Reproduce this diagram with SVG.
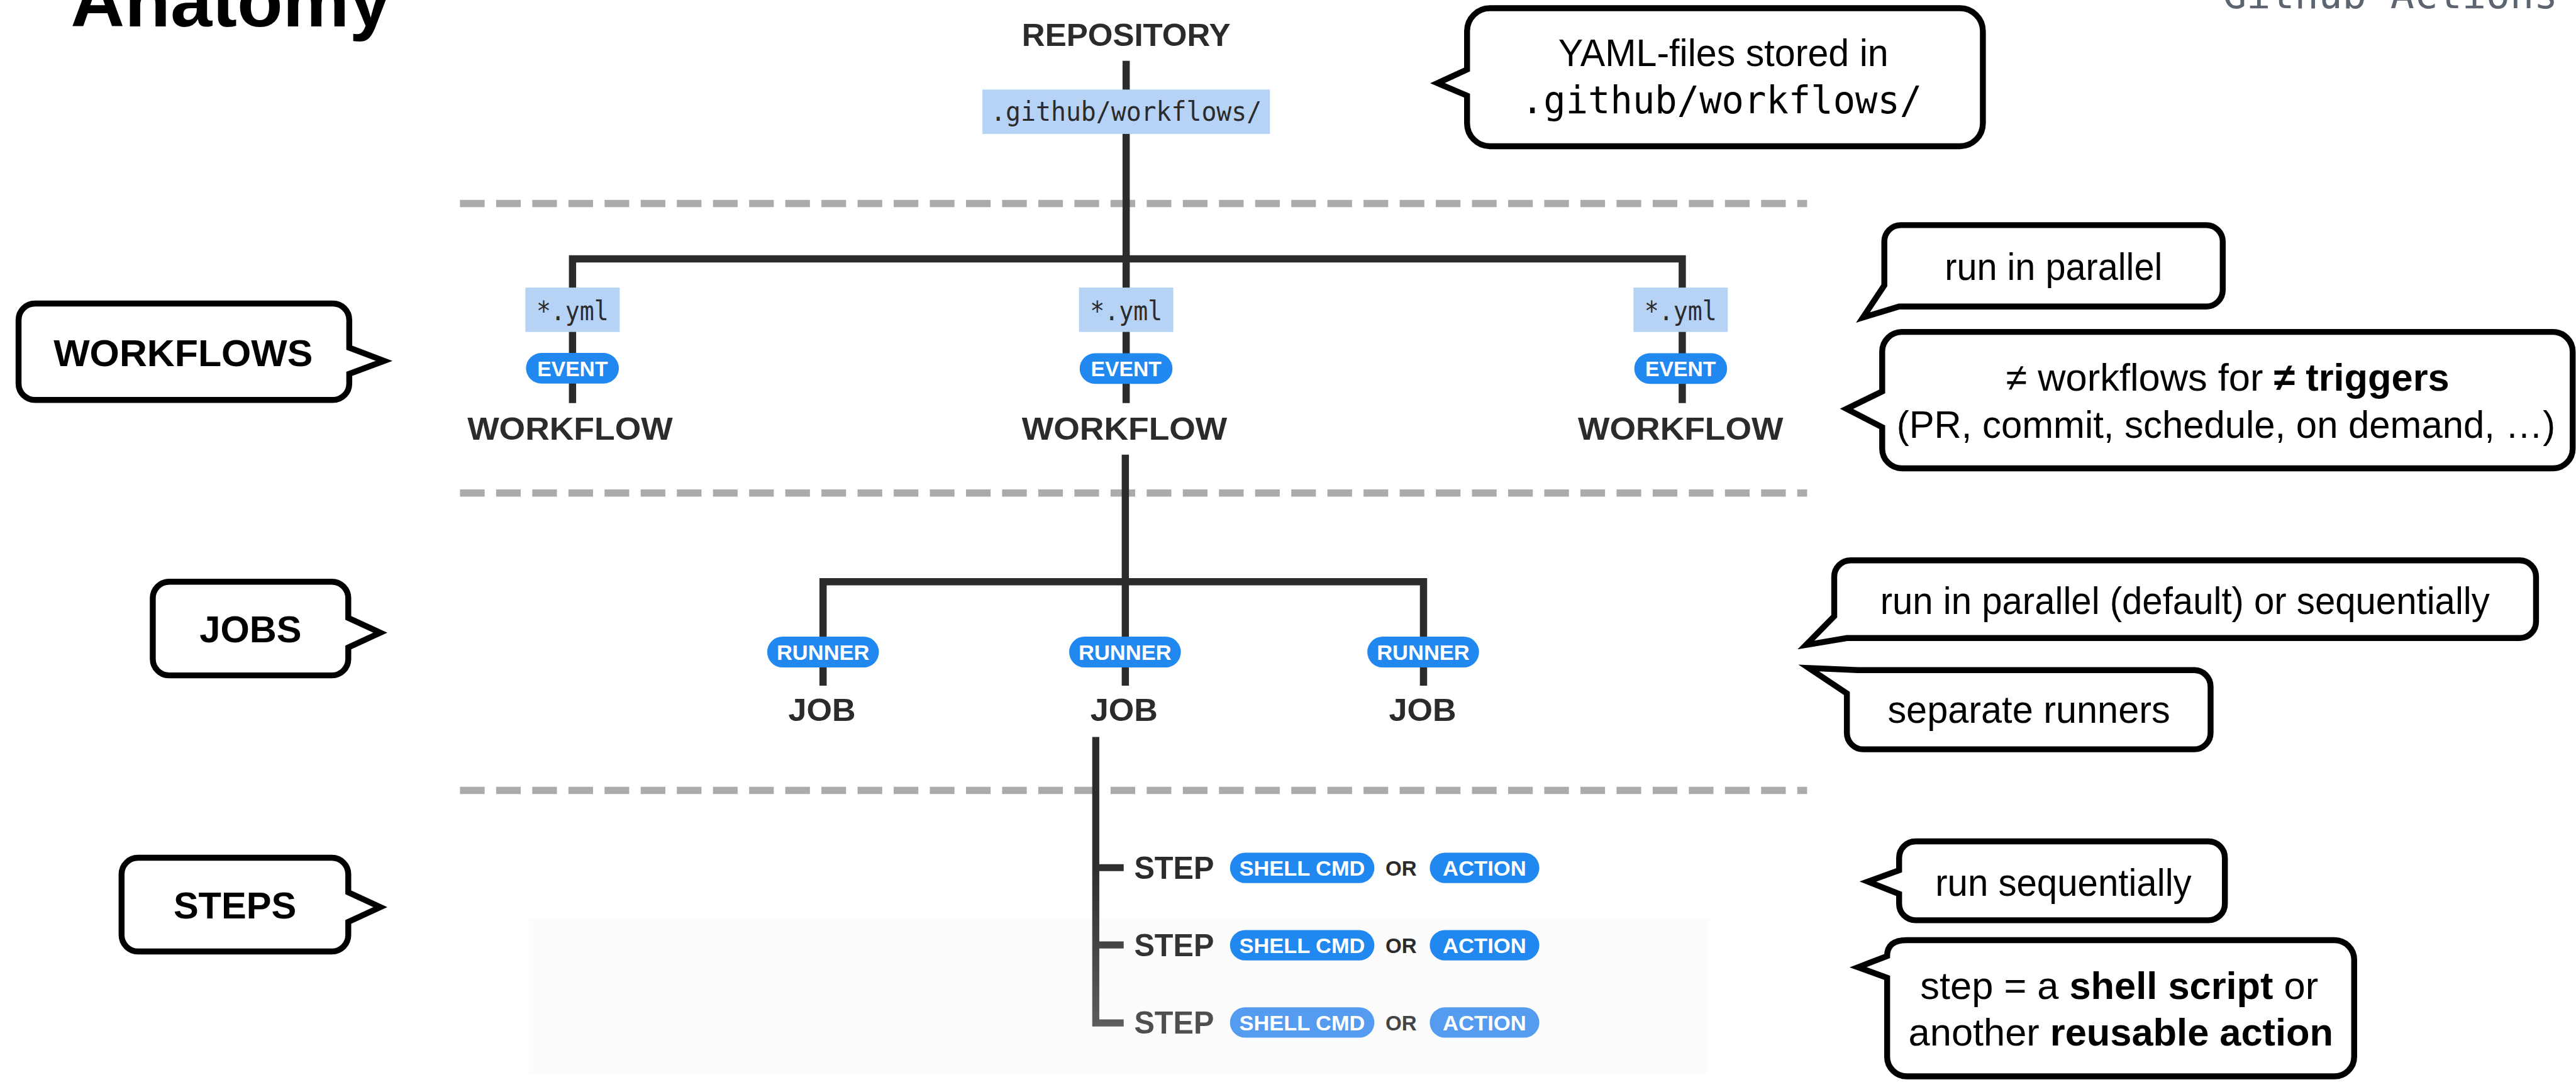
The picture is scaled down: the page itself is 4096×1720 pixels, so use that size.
<svg xmlns="http://www.w3.org/2000/svg" width="4096" height="1720" viewBox="0 0 4096 1720">
<defs>
<style>
.ln{fill:none;stroke:#2b2b2b;stroke-width:4.4;stroke-linejoin:miter}
.dash{fill:none;stroke:#ababab;stroke-width:4.4;stroke-dasharray:15 7}
.yml{fill:#b6d3f6}
.pill{fill:#2188f0}
.pill3{fill:#559cf0}
.pt{font-family:"Liberation Sans",Arial,sans-serif;font-weight:bold;fill:#ffffff;font-size:13px;text-anchor:middle}
.lbl{font-family:"Liberation Sans",Arial,sans-serif;font-weight:bold;fill:#2b2b2b;font-size:19px;text-anchor:middle}
.step{font-family:"Liberation Sans",Arial,sans-serif;font-weight:bold;fill:#2b2b2b;font-size:18.8px}
.or{font-family:"Liberation Sans",Arial,sans-serif;font-weight:bold;fill:#2b2b2b;font-size:12.5px}
.mono{font-family:"DejaVu Sans Mono","Liberation Mono",monospace;fill:#2b2b2b;text-anchor:middle}
.co{fill:#ffffff;stroke:#000000;stroke-width:3.6;stroke-linejoin:miter;stroke-miterlimit:10}
.ct{font-family:"Liberation Sans",Arial,sans-serif;font-size:23.5px;fill:#000000;text-anchor:middle}
.side{font-family:"Liberation Sans",Arial,sans-serif;font-weight:bold;font-size:22.8px;fill:#000000;text-anchor:middle}
.b{font-weight:bold}
</style>
<linearGradient id="fade" gradientUnits="userSpaceOnUse" x1="0" y1="448" x2="0" y2="626">
<stop offset="0" stop-color="#2b2b2b"/>
<stop offset="0.45" stop-color="#2e2e2e"/>
<stop offset="1" stop-color="#5e5e5e"/>
</linearGradient>
</defs>
<rect width="4096" height="1720" fill="#ffffff"/>
<g transform="scale(2.6122)">
<rect x="322" y="559" width="718" height="94" fill="#fcfcfc"/>
<g id="title">
<text x="43" y="16" font-family="Liberation Sans,Arial,sans-serif" font-weight="bold" font-size="45" textLength="195" lengthAdjust="spacingAndGlyphs" fill="#000">Anatomy</text>
</g>
<g id="header">
<text x="1353" y="5" font-family="DejaVu Sans Mono,monospace" font-size="24" fill="#5c6470" textLength="204" lengthAdjust="spacingAndGlyphs">Github Actions</text>
</g>
<g id="separators">
<line class="dash" x1="280" y1="123.8" x2="1100" y2="123.8"/>
<line class="dash" x1="280" y1="300" x2="1100" y2="300"/>
<line class="dash" x1="280" y1="481" x2="1100" y2="481"/>
</g>
<g id="connectors">
<path class="ln" d="M685.5,37 V55"/>
<path class="ln" d="M685.5,81 V245.3"/>
<path class="ln" d="M348.5,245.3 V157.5 H1024 V245.3"/>
<path class="ln" d="M685,276.7 V417.3"/>
<path class="ln" d="M501,417.3 V354 H866.5 V417.3"/>
<path d="M667,448.5 V622.5 H684 M667,528 H684 M667,575 H684" fill="none" stroke="url(#fade)" stroke-width="4.3"/>
</g>
<g id="repository">
<text class="lbl" x="685.5" y="28" textLength="127" lengthAdjust="spacingAndGlyphs">REPOSITORY</text>
</g>
<g id="workflows-dir">
<rect class="yml" x="598" y="54.5" width="175" height="27"/>
<text class="mono" x="685.5" y="73.5" font-size="16" textLength="165" lengthAdjust="spacingAndGlyphs">.github/workflows/</text>
</g>
<g id="workflow-1">
<rect class="yml" x="319.8" y="175" width="57.4" height="27"/>
<text class="mono" x="348.5" y="194.8" font-size="16" textLength="44" lengthAdjust="spacingAndGlyphs">*.yml</text>
<rect class="pill" x="320.2" y="214.8" width="56.5" height="18.6" rx="9.3"/>
<text class="pt" x="348.5" y="228.9" textLength="43" lengthAdjust="spacingAndGlyphs">EVENT</text>
<text class="lbl" x="347" y="267.5" textLength="125" lengthAdjust="spacingAndGlyphs">WORKFLOW</text>
</g>
<g id="workflow-2">
<rect class="yml" x="656.8" y="175" width="57.4" height="27"/>
<text class="mono" x="685.5" y="194.8" font-size="16" textLength="44" lengthAdjust="spacingAndGlyphs">*.yml</text>
<rect class="pill" x="657.2" y="215" width="56.5" height="18.6" rx="9.3"/>
<text class="pt" x="685.5" y="229.1" textLength="43" lengthAdjust="spacingAndGlyphs">EVENT</text>
<text class="lbl" x="684.5" y="267.5" textLength="125" lengthAdjust="spacingAndGlyphs">WORKFLOW</text>
</g>
<g id="workflow-3">
<rect class="yml" x="994.3" y="175" width="57.4" height="27"/>
<text class="mono" x="1023" y="194.8" font-size="16" textLength="44" lengthAdjust="spacingAndGlyphs">*.yml</text>
<rect class="pill" x="994.8" y="215" width="56.5" height="18.6" rx="9.3"/>
<text class="pt" x="1023" y="229.1" textLength="43" lengthAdjust="spacingAndGlyphs">EVENT</text>
<text class="lbl" x="1023" y="267.5" textLength="125" lengthAdjust="spacingAndGlyphs">WORKFLOW</text>
</g>
<g id="job-1">
<rect class="pill" x="467" y="387.4" width="68" height="18.8" rx="9.4"/>
<text class="pt" x="501" y="401.6" textLength="56.5" lengthAdjust="spacingAndGlyphs">RUNNER</text>
<text class="lbl" x="500.4" y="438.6" textLength="41" lengthAdjust="spacingAndGlyphs">JOB</text>
</g>
<g id="job-2">
<rect class="pill" x="650.8" y="387.4" width="68" height="18.8" rx="9.4"/>
<text class="pt" x="684.8" y="401.6" textLength="56.5" lengthAdjust="spacingAndGlyphs">RUNNER</text>
<text class="lbl" x="684.2" y="438.6" textLength="41" lengthAdjust="spacingAndGlyphs">JOB</text>
</g>
<g id="job-3">
<rect class="pill" x="832.3" y="387.4" width="68" height="18.8" rx="9.4"/>
<text class="pt" x="866.3" y="401.6" textLength="56.5" lengthAdjust="spacingAndGlyphs">RUNNER</text>
<text class="lbl" x="866" y="438.6" textLength="41" lengthAdjust="spacingAndGlyphs">JOB</text>
</g>
<g id="step-1">
<text class="step" x="690.4" y="534.8" textLength="48.6" lengthAdjust="spacingAndGlyphs">STEP</text>
<rect class="pill" x="748.7" y="518.9" width="87.9" height="18.5" rx="9.25"/>
<text class="pt" x="792.6" y="532.8" textLength="76.5" lengthAdjust="spacingAndGlyphs">SHELL CMD</text>
<text class="or" x="843.4" y="532.8" textLength="19" lengthAdjust="spacingAndGlyphs">OR</text>
<rect class="pill" x="870.3" y="518.9" width="66.7" height="18.5" rx="9.25"/>
<text class="pt" x="903.6" y="532.8" textLength="50.8" lengthAdjust="spacingAndGlyphs">ACTION</text>
</g>
<g id="step-2">
<text class="step" x="690.4" y="581.8" textLength="48.6" lengthAdjust="spacingAndGlyphs" style="fill:#333">STEP</text>
<rect class="pill" x="748.7" y="566" width="87.9" height="18.5" rx="9.25"/>
<text class="pt" x="792.6" y="579.9" textLength="76.5" lengthAdjust="spacingAndGlyphs">SHELL CMD</text>
<text class="or" x="843.4" y="579.9" textLength="19" lengthAdjust="spacingAndGlyphs">OR</text>
<rect class="pill" x="870.3" y="566" width="66.7" height="18.5" rx="9.25"/>
<text class="pt" x="903.6" y="579.9" textLength="50.8" lengthAdjust="spacingAndGlyphs">ACTION</text>
</g>
<g id="step-3">
<text class="step" x="690.4" y="629" textLength="48.6" lengthAdjust="spacingAndGlyphs" style="fill:#4f4f4f">STEP</text>
<rect class="pill3" x="748.7" y="613" width="87.9" height="18.5" rx="9.25"/>
<text class="pt" x="792.6" y="626.9" textLength="76.5" lengthAdjust="spacingAndGlyphs">SHELL CMD</text>
<text class="or" x="843.4" y="626.9" textLength="19" lengthAdjust="spacingAndGlyphs" style="fill:#444">OR</text>
<rect class="pill3" x="870.3" y="613" width="66.7" height="18.5" rx="9.25"/>
<text class="pt" x="903.6" y="626.9" textLength="50.8" lengthAdjust="spacingAndGlyphs">ACTION</text>
</g>
<g id="callout-workflows">
<path class="co" d="M21.3,184.7 H202.6 A10,10 0 0 1 212.6,194.7 V211.6 L233.8,219.6 L212.6,227.5 V233.4 A10,10 0 0 1 202.6,243.4 H21.3 A10,10 0 0 1 11.3,233.4 V194.7 A10,10 0 0 1 21.3,184.7 Z"/>
<text class="side" x="111.5" y="222.7" textLength="157.8" lengthAdjust="spacingAndGlyphs">WORKFLOWS</text>
</g>
<g id="callout-jobs">
<path class="co" d="M103,354 H202 A10,10 0 0 1 212,364 V376 L231.5,385 L212,394 V401 A10,10 0 0 1 202,411 H103 A10,10 0 0 1 93,401 V364 A10,10 0 0 1 103,354 Z"/>
<text class="side" x="152.5" y="391">JOBS</text>
</g>
<g id="callout-steps">
<path class="co" d="M84,522 H202 A10,10 0 0 1 212,532 V543 L231.5,552 L212,561 V569 A10,10 0 0 1 202,579 H84 A10,10 0 0 1 74,569 V532 A10,10 0 0 1 84,522 Z"/>
<text class="side" x="143" y="559">STEPS</text>
</g>
<g id="note-yaml">
<path class="co" d="M907,5 H1193 A14,14 0 0 1 1207,19 V75 A14,14 0 0 1 1193,89 H907 A14,14 0 0 1 893,75 V58.2 L875,50.6 L893,42.3 V19 A14,14 0 0 1 907,5 Z"/>
<text class="ct" x="1049" y="40.2" textLength="201" lengthAdjust="spacingAndGlyphs">YAML-files stored in</text>
<text class="mono" x="1048" y="69" font-size="23" style="fill:#000" textLength="244" lengthAdjust="spacingAndGlyphs">.github/workflows/</text>
</g>
<g id="note-parallel">
<path class="co" d="M1157,137 H1343 A10,10 0 0 1 1353,147 V176.5 A10,10 0 0 1 1343,186.5 H1156 L1134,193.2 L1147,173.6 V147 A10,10 0 0 1 1157,137 Z"/>
<text class="ct" x="1250" y="170.4" textLength="132.5" lengthAdjust="spacingAndGlyphs">run in parallel</text>
</g>
<g id="note-triggers">
<path class="co" d="M1157.7,202 H1554 A12,12 0 0 1 1566,214 V273 A12,12 0 0 1 1554,285 H1157.7 A12,12 0 0 1 1145.7,273 V260 L1124,248.8 L1145.7,238.2 V214 A12,12 0 0 1 1157.7,202 Z"/>
<text class="ct" x="1356" y="237.7">≠ workflows for <tspan class="b">≠ triggers</tspan></text>
<text class="ct" x="1355" y="266.6" textLength="401" lengthAdjust="spacingAndGlyphs">(PR, commit, schedule, on demand, …)</text>
</g>
<g id="note-jobs-parallel">
<path class="co" d="M1126.5,341 H1533.7 A10,10 0 0 1 1543.7,351 V378.3 A10,10 0 0 1 1533.7,388.3 H1124.2 L1099.3,392.5 L1116.5,375 V351 A10,10 0 0 1 1126.5,341 Z"/>
<text class="ct" x="1330" y="373.5" textLength="371" lengthAdjust="spacingAndGlyphs">run in parallel (default) or sequentially</text>
</g>
<g id="note-runners">
<path class="co" d="M1131,407.8 H1335.6 A10,10 0 0 1 1345.6,417.8 V446 A10,10 0 0 1 1335.6,456 H1134.2 A10,10 0 0 1 1124.2,446 V422 L1101,406.5 Z"/>
<text class="ct" x="1235" y="440" textLength="172" lengthAdjust="spacingAndGlyphs">separate runners</text>
</g>
<g id="note-sequential">
<path class="co" d="M1166,512 H1344.3 A10,10 0 0 1 1354.3,522 V550 A10,10 0 0 1 1344.3,560 H1166 A10,10 0 0 1 1156,550 V544 L1137,536.5 L1156,529.6 V522 A10,10 0 0 1 1166,512 Z"/>
<text class="ct" x="1256" y="545" textLength="156" lengthAdjust="spacingAndGlyphs">run sequentially</text>
</g>
<g id="note-step">
<path class="co" d="M1160.7,572.1 H1421 A12,12 0 0 1 1433,584.1 V643 A12,12 0 0 1 1421,655 H1160.7 A12,12 0 0 1 1148.7,643 V595 L1131,588.6 L1148.7,581.8 Q1148.7,572.1 1160.7,572.1 Z"/>
<text class="ct" x="1290" y="607.8">step = a <tspan class="b">shell script</tspan> or</text>
<text class="ct" x="1291" y="636.3">another <tspan class="b">reusable action</tspan></text>
</g>
</g>
</svg>
